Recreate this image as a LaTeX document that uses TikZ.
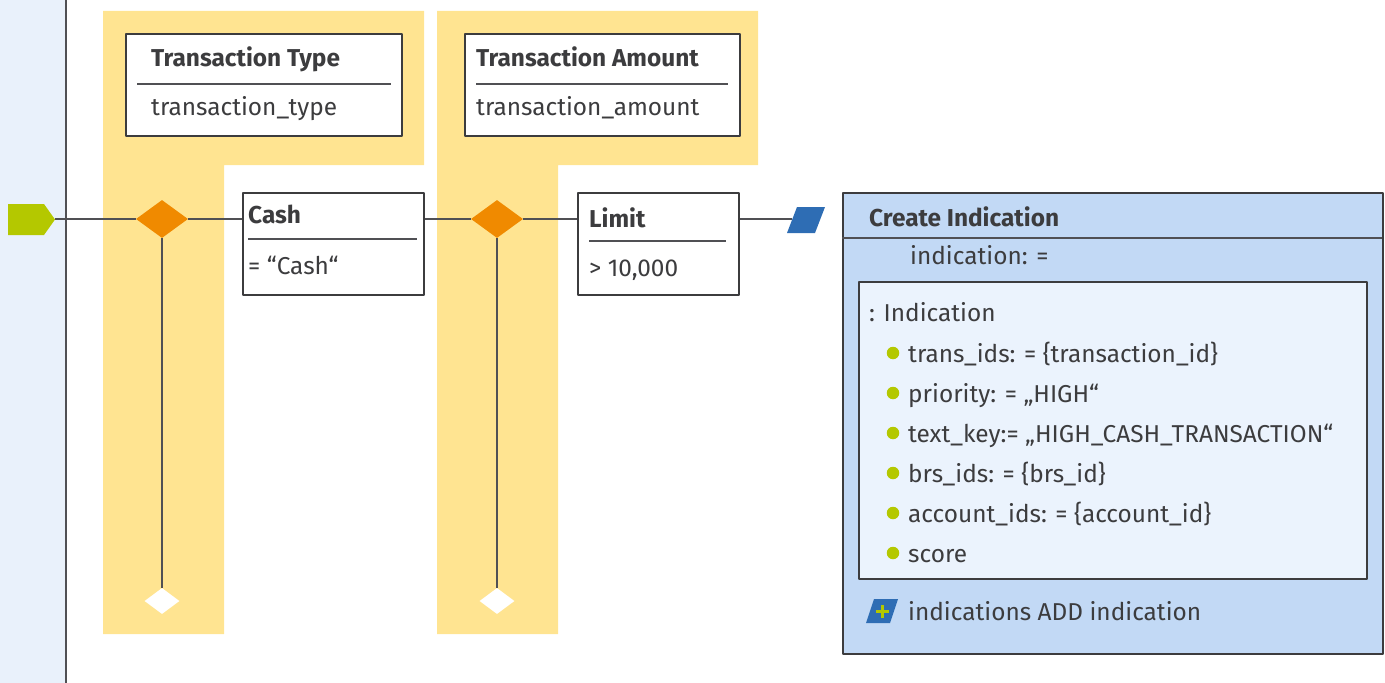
\documentclass[tikz,border=0pt]{standalone}
\usepackage{fontspec}
\setmainfont{Fira Sans}
\usetikzlibrary{shapes.geometric}
\definecolor{ink}{HTML}{3C3C3E}
\definecolor{wire}{HTML}{505054}
\definecolor{laneblue}{HTML}{E9F1FB}
\definecolor{lanegold}{HTML}{FFE491}
\definecolor{gateorange}{HTML}{F08A00}
\definecolor{startgreen}{HTML}{B4C800}
\definecolor{flagblue}{HTML}{2E6DB4}
\definecolor{boxblue}{HTML}{C2D9F5}
\definecolor{innerblue}{HTML}{EBF3FD}

\begin{document}
\begin{tikzpicture}[x=1bp,y=-1bp,line join=bevel,
  lbl/.style={anchor=base west,inner sep=0pt,text=ink,font=\fontsize{24.5}{28}\selectfont},
  ttl/.style={lbl,font=\fontsize{24.5}{28}\selectfont\bfseries},
  box/.style={draw=ink,line width=2bp,fill=white,anchor=north west,inner sep=0pt},
  link/.style={draw=wire,line width=2bp},
  gate/.style={diamond,fill=gateorange,minimum width=52bp,minimum height=38bp,inner sep=0pt},
  merge/.style={diamond,fill=white,minimum width=35bp,minimum height=26bp,inner sep=0pt},
  dot/.style={circle,fill=startgreen,minimum size=12.5bp,inner sep=0pt}]
		\useasboundingbox (0,0) rectangle (1385,683);
		%% lanes
		\fill[laneblue] (0,0) rectangle (66,683);
		\draw[link] (66,0) -- (66,683);
		\fill[lanegold] (103,11) -- (424,11) -- (424,165) -- (224,165) -- (224,634) -- (103,634) -- cycle;
		\fill[lanegold] (437,11) -- (758,11) -- (758,165) -- (558,165) -- (558,634) -- (437,634) -- cycle;
		%% decision tables
		\node (typebox) at (125,33) [box,minimum width=276bp,minimum height=102bp] {};
		  \node (typettl) at (151,67) [ttl] {Transaction Type};
		  \draw[link] (137,84) -- (391,84);
		  \node (typeattr) at (151,116) [lbl] {transaction\_type};
		\node (amountbox) at (464,33) [box,minimum width=275bp,minimum height=102bp] {};
		  \node (amountttl) at (476,67) [ttl] {Transaction Amount};
		  \draw[link] (476,84) -- (728,84);
		  \node (amountattr) at (476,116) [lbl] {transaction\_amount};
		\node (cash) at (242,192) [box,minimum width=181bp,minimum height=102bp] {};
		  \node (cashttl) at (248,223) [ttl] {Cash};
		  \draw[link] (248,239) -- (417,239);
		  \node (cashrule) at (248,274) [lbl] {= “Cash“};
		\node (limit) at (577,192) [box,minimum width=161bp,minimum height=102bp] {};
		  \node (limitttl) at (589,227) [ttl] {Limit};
		  \draw[link] (589,241) -- (726,241);
		  \node (limitrule) at (589,276) [lbl] {> 10,000};
		%% flow
		\fill[startgreen] (8,204) -- (44,204) -- (55,219.5) -- (44,235) -- (8,235) -- cycle;
		\coordinate (start) at (55,219);
		\node (gate1) at (162,219) [gate] {};
		\node (merge1) at (162,601) [merge] {};
		\node (gate2) at (497,219) [gate] {};
		\node (merge2) at (497,601) [merge] {};
		\fill[flagblue] (787,233) -- (797,207) -- (825,207) -- (815,233) -- cycle;
		\coordinate (flag) at (792,219);
		\draw[link] (start) -- (gate1.west);
		\draw[link] (gate1.east) -- (gate1 -| cash.west);
		\draw[link] (gate1.south) -- (merge1.north);
		\draw[link] (cash.east |- gate2) -- (gate2.west);
		\draw[link] (gate2.east) -- (gate2 -| limit.west);
		\draw[link] (gate2.south) -- (merge2.north);
		\draw[link] (limit.east |- flag) -- (flag);
		%% action
		\node (create) at (842,192) [box,fill=boxblue,minimum width=540bp,minimum height=461bp] {};
		  \node (createttl) at (869,226) [ttl] {Create Indication};
		  \draw[link] (842,238) -- (1382,238);
		  \node (assign) at (910,264) [lbl] {indication: =};
		\node (attrs) at (858,281) [box,fill=innerblue,minimum width=508bp,minimum height=297bp] {};
		  \node (attrsttl) at (869,321) [lbl] {: Indication};
		  \node (dot1) at (893,353) [dot] {};
		  \node (attr1) at (908,362) [lbl] {trans\_ids: = \{transaction\_id\}};
		  \node (dot2) at (893,393) [dot] {};
		  \node (attr2) at (908,402) [lbl] {priority: = „HIGH“};
		  \node (dot3) at (893,433) [dot] {};
		  \node (attr3) at (908,442) [lbl] {text\_key:= „HIGH\_CASH\_TRANSACTION“};
		  \node (dot4) at (893,473) [dot] {};
		  \node (attr4) at (908,482) [lbl] {brs\_ids: = \{brs\_id\}};
		  \node (dot5) at (893,513) [dot] {};
		  \node (attr5) at (908,522) [lbl] {account\_ids: = \{account\_id\}};
		  \node (dot6) at (893,553) [dot] {};
		  \node (attr6) at (908,562) [lbl] {score};
		\fill[flagblue] (866,623) -- (874,599) -- (898,599) -- (890,623) -- cycle;
		\coordinate (addicon) at (882,611);
		  \draw[startgreen,line width=3bp] ([xshift=-6.5bp]addicon) -- ([xshift=6.5bp]addicon);
		  \draw[startgreen,line width=3bp] ([yshift=-6.5bp]addicon) -- ([yshift=6.5bp]addicon);
		\node (addtxt) at (908,620) [lbl] {indications ADD indication};
		%
	\end{tikzpicture}
\end{document}
